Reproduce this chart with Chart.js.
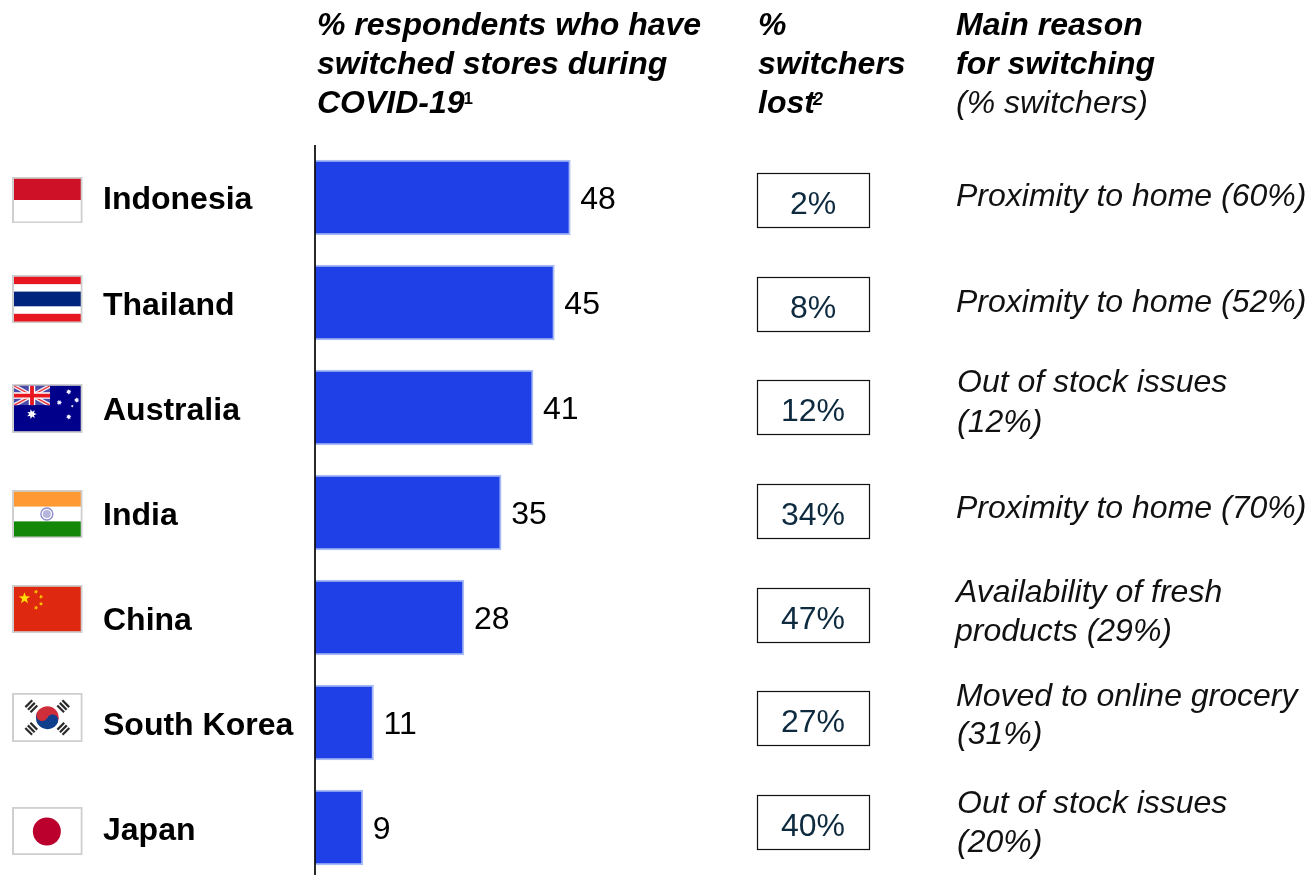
<!DOCTYPE html>
<html>
<head>
<meta charset="utf-8">
<style>
html,body{margin:0;padding:0;background:#fff;overflow:hidden;width:1309px;height:875px}
#wrap{position:absolute;left:0;top:0;width:1309px;height:880px}
</style>
<script src="https://cdn.jsdelivr.net/npm/chart.js@4/dist/chart.umd.min.js"></script>
</head>
<body>
<div id="wrap"><canvas id="c" width="1309" height="880"></canvas></div>
<script>
// Store switching during COVID-19, by country
const countries = ['Indonesia','Thailand','Australia','India','China','South Korea','Japan'];
const switchedPct = [48,45,41,35,28,11,9];
const lostPct = ['2%','8%','12%','34%','47%','27%','40%'];
const reasons = [
  ['Proximity to home (60%)'],
  ['Proximity to home (52%)'],
  ['Out of stock issues','(12%)'],
  ['Proximity to home (70%)'],
  ['Availability of fresh','products (29%)'],
  ['Moved to online grocery','(31%)'],
  ['Out of stock issues','(20%)']
];
const flagKeys = ['id','th','au','in','cn','kr','jp'];

// Row layout for the columns beside the bars
const flagTops = [177,275,384,490,585,693,807];
const flagHeights = [46,48,49,48,48,49,48];
const boxTops = [174,278,381,485,589,692,796];
const reasonBaselines = [[205.5],[312],[391.5,431.5],[517.5],[601.5,640.5],[705.5,743.5],[812.5,851.5]];
const reasonLefts = [[956],[956],[957,957],[956],[956,955],[956,957],[957,957]];
const nameOffsets = [11,12,12,12,12,12,12];

const FONT = '"Liberation Sans", Arial, sans-serif';

function star(ctx, x, y, r, points, inner, rot, color) {
  ctx.fillStyle = color;
  ctx.beginPath();
  for (let i = 0; i < points * 2; i++) {
    const a = (rot === null ? -Math.PI / 2 : rot) + i * Math.PI / points;
    const q = i % 2 ? r * inner : r;
    ctx[i ? 'lineTo' : 'moveTo'](x + Math.cos(a) * q, y + Math.sin(a) * q);
  }
  ctx.closePath();
  ctx.fill();
}

function bands(ctx, x, y, w, h, list) {
  let cy = y;
  const total = list.reduce((s, b) => s + b[0], 0);
  list.forEach(b => {
    const bh = h * b[0] / total;
    ctx.fillStyle = b[1];
    ctx.fillRect(x, cy, w, bh + 0.3);
    cy += bh;
  });
}

// Small flag artwork, x/y/w/h is the inner area inside the grey frame
const flagPainters = {
  id(ctx, x, y, w, h) { bands(ctx, x, y, w, h, [[1, '#ce1126'], [1, '#ffffff']]); },
  th(ctx, x, y, w, h) { bands(ctx, x, y, w, h, [[1, '#e8171f'], [1, '#ffffff'], [2, '#00247d'], [1, '#ffffff'], [1, '#e8171f']]); },
  au(ctx, x, y, w, h) {
    ctx.fillStyle = '#00008b';
    ctx.fillRect(x, y, w, h);
    const uw = 36, uh = 19.5;
    ctx.save();
    ctx.beginPath(); ctx.rect(x, y, uw, uh); ctx.clip();
    ctx.fillStyle = '#4a4aa8';
    ctx.fillRect(x, y, uw, uh);
    ctx.strokeStyle = '#f4f0f4'; ctx.lineWidth = 4;
    ctx.beginPath();
    ctx.moveTo(x, y); ctx.lineTo(x + uw, y + uh);
    ctx.moveTo(x + uw, y); ctx.lineTo(x, y + uh);
    ctx.stroke();
    ctx.strokeStyle = '#e8343a'; ctx.lineWidth = 1.4;
    ctx.stroke();
    ctx.strokeStyle = '#fff'; ctx.lineWidth = 6.5;
    ctx.beginPath();
    ctx.moveTo(x + uw / 2, y); ctx.lineTo(x + uw / 2, y + uh);
    ctx.moveTo(x, y + uh / 2); ctx.lineTo(x + uw, y + uh / 2);
    ctx.stroke();
    ctx.strokeStyle = '#e8171f'; ctx.lineWidth = 3.8;
    ctx.stroke();
    ctx.restore();
    star(ctx, x + 17.7, y + 28.3, 5, 7, 0.5, 0, '#fff');
    [[54.7, 6], [62.7, 14.3], [45.3, 16.7], [54.7, 31]].forEach(s => star(ctx, x + s[0], y + s[1], 2.7, 7, 0.6, 0, '#eef'));
    star(ctx, x + 58.3, y + 20.3, 1.4, 5, 0.6, 0, '#dde');
  },
  in(ctx, x, y, w, h) {
    bands(ctx, x, y, w, h, [[1, '#ff9933'], [1, '#ffffff'], [1, '#138808']]);
    const cx = x + w / 2 - 0.5, cy = y + h / 2;
    ctx.strokeStyle = '#8f8fd0'; ctx.lineWidth = 1.4;
    ctx.beginPath(); ctx.arc(cx, cy, 6, 0, 2 * Math.PI); ctx.stroke();
    ctx.fillStyle = '#b5b5dd';
    ctx.beginPath(); ctx.arc(cx, cy, 4, 0, 2 * Math.PI); ctx.fill();
  },
  cn(ctx, x, y, w, h) {
    ctx.fillStyle = '#de2910';
    ctx.fillRect(x, y, w, h);
    star(ctx, x + 10.5, y + 11.5, 6, 5, 0.4, null, '#ffde00');
    [[22, 5, .3], [27, 10, .8], [27, 17, 0], [22, 21, .3]].forEach(s => star(ctx, x + s[0], y + s[1], 2.3, 5, 0.45, s[2] - Math.PI / 2, '#ffc800'));
  },
  kr(ctx, x, y, w, h) {
    ctx.fillStyle = '#fff';
    ctx.fillRect(x, y, w, h);
    const cx = 47.3, cy = 717.7, r = 11.5;
    ctx.save();
    ctx.translate(cx, cy); ctx.rotate(Math.PI * 0.14);
    ctx.fillStyle = '#cd2e3a';
    ctx.beginPath(); ctx.arc(0, 0, r, Math.PI, 0); ctx.fill();
    ctx.fillStyle = '#0f3f8c';
    ctx.beginPath(); ctx.arc(0, 0, r, 0, Math.PI); ctx.fill();
    ctx.beginPath(); ctx.arc(r / 2, 0, r / 2, 0, 2 * Math.PI); ctx.fill();
    ctx.fillStyle = '#cd2e3a';
    ctx.beginPath(); ctx.arc(-r / 2, 0, r / 2, 0, 2 * Math.PI); ctx.fill();
    ctx.restore();
    ctx.fillStyle = '#2a2a2a';
    [[-16, -11.5, -1], [16, -11.5, 1], [-16, 11, 1], [16, 11, -1]].forEach(p => {
      ctx.save();
      ctx.translate(cx + p[0], cy + p[1]);
      ctx.rotate(p[2] * Math.PI / 4);
      [-4.6, -1, 2.6].forEach(o => ctx.fillRect(-4.8, o, 9.6, 2.2));
      ctx.restore();
    });
  },
  jp(ctx, x, y, w, h) {
    ctx.fillStyle = '#fff';
    ctx.fillRect(x, y, w, h);
    ctx.fillStyle = '#bc002d';
    ctx.beginPath(); ctx.arc(x + w / 2 - 0.5, y + h / 2 + 0.5, 14, 0, 2 * Math.PI); ctx.fill();
  }
};

// Text, flags and value boxes laid out from the chart's own scales
const annotations = {
  id: 'annotations',
  afterDatasetsDraw(chart) {
    const { ctx } = chart;
    const xs = chart.scales.x, ys = chart.scales.y;
    ctx.save();
    ctx.textBaseline = 'alphabetic';
    ctx.textAlign = 'left';

    // y axis rule
    ctx.strokeStyle = '#111'; ctx.lineWidth = 1.8;
    ctx.beginPath(); ctx.moveTo(xs.left, 145); ctx.lineTo(xs.left, 880); ctx.stroke();

    countries.forEach((name, i) => {
      const cy = ys.getPixelForValue(i);
      const end = xs.getPixelForValue(switchedPct[i]);

      // country flag and name
      const fy = flagTops[i], fh = flagHeights[i];
      ctx.fillStyle = '#cfcfcf';
      ctx.fillRect(12, fy, 70.5, fh);
      flagPainters[flagKeys[i]](ctx, 14, fy + 1.8, 66.7, fh - 3.6);

      ctx.fillStyle = '#000';
      ctx.font = 'bold 32px ' + FONT;
      ctx.fillText(name, 103, cy + nameOffsets[i]);

      // bar value
      ctx.font = '32px ' + FONT;
      ctx.fillText(String(switchedPct[i]), end + 10, cy + 11.5);

      // lost-switchers box
      const by = boxTops[i];
      ctx.strokeStyle = '#111'; ctx.lineWidth = 1.2;
      ctx.strokeRect(757.5, by - 0.5, 112, 54);
      ctx.fillStyle = '#0d2a3f';
      ctx.textAlign = 'center';
      ctx.fillText(lostPct[i], 813, by + 39.5);
      ctx.textAlign = 'left';

      // main reason
      ctx.fillStyle = '#111';
      ctx.font = 'italic 32px ' + FONT;
      reasons[i].forEach((line, j) => {
        ctx.fillText(line, reasonLefts[i][j], reasonBaselines[i][j]);
      });
    });

    // column headers
    ctx.fillStyle = '#000';
    ctx.font = 'italic bold 32px ' + FONT;
    ctx.fillText('% respondents who have', 317, 35);
    ctx.fillText('switched stores during', 317, 74);
    ctx.fillText('COVID-19', 317, 113);
    const w1 = ctx.measureText('COVID-19').width;
    ctx.fillText('%', 758, 35);
    ctx.fillText('switchers', 758, 74);
    ctx.fillText('lost', 758, 113);
    const w2 = ctx.measureText('lost').width;
    ctx.fillText('Main reason', 956, 35);
    ctx.fillText('for switching', 956, 74);
    ctx.font = 'bold 17px ' + FONT;
    ctx.fillText('1', 317 + w1 - 1, 104);
    ctx.font = 'italic bold 18px ' + FONT;
    ctx.fillText('2', 758 + w2 - 2, 105);
    ctx.font = 'italic 32px ' + FONT;
    ctx.fillStyle = '#111';
    ctx.fillText('(% switchers)', 956, 113);
    ctx.restore();
  }
};

new Chart(document.getElementById('c'), {
  type: 'bar',
  data: {
    labels: countries,
    datasets: [{
      data: switchedPct,
      backgroundColor: '#1f40e6',
      borderColor: '#a9bbf5',
      borderWidth: 2,
      borderSkipped: 'left',
      barThickness: 75
    }]
  },
  options: {
    indexAxis: 'y',
    responsive: false,
    animation: false,
    events: [],
    layout: { padding: { left: 315, right: 460, top: 145, bottom: 0 } },
    plugins: { legend: { display: false }, tooltip: { enabled: false } },
    scales: {
      x: { display: false, min: 0, max: 100.4 },
      y: { display: false }
    }
  },
  plugins: [annotations]
});
</script>
</body>
</html>
